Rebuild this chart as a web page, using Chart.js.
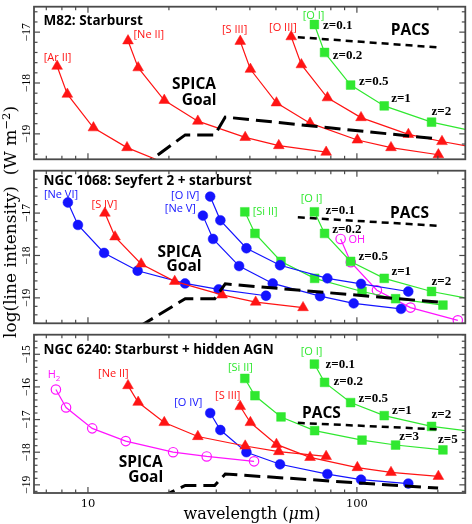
<!DOCTYPE html>
<html><head><meta charset="utf-8">
<script src="https://cdn.jsdelivr.net/npm/chart.js@4.4.0/dist/chart.umd.min.js"></script>
<style>
html,body{margin:0;padding:0;background:#fff;}
#wrap{position:relative;width:472px;height:524px;overflow:hidden;background:#fff;}
canvas{position:absolute;left:0;}
.axt{position:absolute;white-space:nowrap;font-family:"DejaVu Serif";color:#000;}
.axt sup{font-size:0.68em;vertical-align:0.55em;line-height:0;}
</style></head><body>
<div id="wrap">
<canvas id="c1" width="472" height="166" style="top:0px"></canvas>
<canvas id="c2" width="472" height="166" style="top:164px"></canvas>
<canvas id="c3" width="472" height="196" style="top:328px"></canvas>
<div class="axt" id="ytitle" style="left:10px;top:222px;font-size:17px;transform:translate(-50%,-50%) rotate(-90deg);">log(line intensity)&nbsp; (W m<sup>−2</sup>)</div>
<div class="axt" id="xtitle" style="left:252px;top:513px;font-size:16px;transform:translate(-50%,-50%);">wavelength (<i>μ</i>m)</div>
</div>
<script>
// ---------- axis ranges / ticks ----------
const X_MIN = 6.3, X_MAX = 253;
const X_MAJOR = [10, 100];
const X_MINOR = [7, 8, 9, 20, 30, 40, 50, 60, 70, 80, 90, 200];
const X_TICK_LABELS = ['10', '100'];
const Y_RANGE_1 = [-19.5, -16.5];
const Y_RANGE_2 = [-19.6, -16.0];
const Y_RANGE_3 = [-19.25, -14.4];
const Y_MAJOR_1 = [-17, -18, -19];
const Y_MAJOR_2 = [-17, -18, -19];
const Y_MAJOR_3 = [-15, -16, -17, -18, -19];

// ---------- observed wavelengths (µm) at z = 0.1, 0.2, 0.5, 1, 2, 3, 5 ----------
const AR2_WL = [7.68, 8.38, 10.48, 13.97, 20.96];
const NE2_WL = [14.09, 15.37, 19.22, 25.62, 38.43, 51.24, 76.86];
const S3_WL  = [36.83, 40.18, 50.22, 66.96, 100.4, 133.9, 200.9];
const O3_WL  = [56.99, 62.17, 77.72, 103.6, 155.4, 207.2, 310.9];
const O1_WL  = [69.50, 75.82, 94.77, 126.4, 189.5, 252.7];
const NE6_WL = [8.42, 9.18, 11.48, 15.30, 22.96, 30.61, 45.91];
const S4_WL  = [11.56, 12.61, 15.77, 21.02, 31.53, 42.04, 63.06];
const O4_WL  = [28.48, 31.07, 38.84, 51.78, 77.67, 103.6, 155.3];
const NE5_WL = [26.75, 29.18, 36.48, 48.64, 72.96, 97.28, 145.9];
const SI2_WL = [38.30, 41.78, 52.23, 69.64, 104.5, 139.3, 208.9];
const OH_WL  = [87.0, 94.9, 118.7, 158.2, 237.3];
const H2_WL  = [7.60, 8.29, 10.37, 13.82, 20.73, 27.64, 41.46];

// ---------- log(line intensity) values ----------
// Panel 1: M82
const M82_AR2 = [-17.67, -18.22, -18.88, -19.27, -19.65];
const M82_NE2 = [-17.17, -17.70, -18.34, -18.75, -19.07, -19.23, -19.36];
const M82_S3  = [-17.18, -17.73, -18.39, -18.79, -19.12, -19.27, -19.41];
const M82_O3  = [-17.09, -17.64, -18.29, -18.68, -19.01, -19.15, -19.32];
const M82_O1  = [-16.85, -17.40, -18.04, -18.45, -18.77, -18.91];
// Panel 2: NGC 1068
const N1068_NE6 = [-16.75, -17.28, -17.94, -18.36, -18.66, -18.80, -18.95];
const N1068_S4  = [-17.00, -17.56, -18.20, -18.61, -18.93, -19.10, -19.23];
const N1068_O4  = [-16.61, -17.17, -17.83, -18.23, -18.54, -18.67, -18.85];
const N1068_NE5 = [-17.06, -17.61, -18.25, -18.66, -18.96, -19.13, -19.26];
const N1068_SI2 = [-16.97, -17.48, -18.14, -18.54, -18.85, -19.02, -19.17];
const N1068_O1  = [-16.97, -17.48, -18.14, -18.54, -18.85, -19.00];
const N1068_OH  = [-17.61, -18.16, -18.82, -19.23, -19.53];
// Panel 3: NGC 6240
const N6240_H2  = [-16.08, -16.63, -17.27, -17.66, -18.00, -18.13, -18.28];
const N6240_NE2 = [-15.96, -16.47, -17.09, -17.52, -17.81, -17.98, -18.13];
const N6240_S3  = [-16.60, -17.09, -17.76, -18.16, -18.47, -18.62, -18.74];
const N6240_O4  = [-16.80, -17.32, -18.00, -18.37, -18.67, -18.84, -18.96];
const N6240_SI2 = [-15.74, -16.27, -16.92, -17.34, -17.63, -17.78, -17.93];
const N6240_O1  = [-15.30, -15.86, -16.48, -16.88, -17.21, -17.34];

// ---------- sensitivity curves ----------
const PACS_WL = [60.3, 200.4];
const PACS_LIM = [-17.10, -17.30];
const SPICA_WL = [15.5, 23.0, 29.6, 32.4, 200.4];
const SPICA_LIM = [-19.68, -19.02, -19.02, -18.67, -19.10];

const RED = '#ff1414', BLUE = '#1414ff', GREEN = '#30e830', MAG = '#ff14ff';

function pts(wl, v) { return wl.map((x, i) => ({x: x, y: v[i]})); }
function series(wl, v, color, kind, hideLast) {
  const n = wl.length;
  let r = kind === 'tri' ? 6.2 : kind === 'sq' ? 6.2 : kind === 'open' ? 4.7 : 4.9;
  const radii = wl.map((_, i) => (hideLast && i === n - 1) ? 0 : r);
  return {
    data: pts(wl, v), showLine: true, borderColor: color, borderWidth: 1.2,
    tension: 0, pointRadius: radii, pointHoverRadius: radii,
    pointStyle: kind === 'tri' ? 'triangle' : kind === 'sq' ? 'rect' : 'circle',
    pointBackgroundColor: kind === 'open' ? 'rgba(255,255,255,0)' : color,
    pointBorderColor: color, pointBorderWidth: kind === 'open' ? 1.2 : 0.5
  };
}
function dashed(wl, v, w, dash) {
  return {data: pts(wl, v), showLine: true, borderColor: '#000', borderWidth: w,
    borderDash: dash, pointRadius: 0, tension: 0};
}

const TITLE_FONT = '700 13.5px "Open Sans"';
const LINE_FONT = '11px "Open Sans"';
const Z_FONT = 'bold 13px "Liberation Serif"';
const BIG_FONT = 'bold 15.5px "Open Sans"';

const LABELS_1 = [
  {t: 'M82: Starburst', x: 6.84, y: -16.775, f: TITLE_FONT, a: 'left'},
  {t: '[Ar II]', x: 7.71, y: -17.50, c: RED},
  {t: '[Ne II]', x: 16.84, y: -17.05, c: RED},
  {t: '[S III]', x: 35.1, y: -16.96, c: RED},
  {t: '[O III]', x: 53.1, y: -16.91, c: RED},
  {t: '[O I]', x: 69.0, y: -16.68, c: GREEN},
  {t: 'SPICA', x: 24.8, y: -18.04, f: BIG_FONT},
  {t: 'Goal', x: 25.9, y: -18.34, f: BIG_FONT},
  {t: 'PACS', x: 157.9, y: -16.97, f: BIG_FONT},
  {t: 'z=0.1', x: 74.8, y: -16.88, f: Z_FONT, a: 'left'},
  {t: 'z=0.2', x: 81.4, y: -17.46, f: Z_FONT, a: 'left'},
  {t: 'z=0.5', x: 101.9, y: -17.98, f: Z_FONT, a: 'left'},
  {t: 'z=1', x: 134.1, y: -18.31, f: Z_FONT, a: 'left'},
  {t: 'z=2', x: 189.5, y: -18.57, f: Z_FONT, a: 'left'}
];
const LABELS_2 = [
  {t: 'NGC 1068: Seyfert 2 + starburst', x: 6.84, y: -16.257, f: TITLE_FONT, a: 'left'},
  {t: '[Ne VI]', x: 7.94, y: -16.57, c: BLUE},
  {t: '[S IV]', x: 11.51, y: -16.80, c: RED},
  {t: '[O IV]', x: 23.0, y: -16.60, c: BLUE},
  {t: '[Ne V]', x: 22.06, y: -16.89, c: BLUE},
  {t: '[Si II]', x: 45.6, y: -16.97, c: GREEN},
  {t: '[O I]', x: 67.8, y: -16.66, c: GREEN},
  {t: 'OH', x: 100.0, y: -17.63, c: MAG},
  {t: 'SPICA', x: 21.9, y: -17.92, f: BIG_FONT},
  {t: 'Goal', x: 22.76, y: -18.27, f: BIG_FONT},
  {t: 'PACS', x: 156.9, y: -17.00, f: BIG_FONT},
  {t: 'z=0.1', x: 76.5, y: -16.94, f: Z_FONT, a: 'left'},
  {t: 'z=0.2', x: 80.9, y: -17.39, f: Z_FONT, a: 'left'},
  {t: 'z=0.5', x: 101.4, y: -18.03, f: Z_FONT, a: 'left'},
  {t: 'z=1', x: 134.4, y: -18.37, f: Z_FONT, a: 'left'},
  {t: 'z=2', x: 189.5, y: -18.62, f: Z_FONT, a: 'left'}
];
const LABELS_3 = [
  {t: 'NGC 6240: Starburst + hidden AGN', x: 6.84, y: -14.87, f: TITLE_FONT, a: 'left'},
  {t: 'H', sub: '2', x: 7.48, y: -15.63, c: MAG},
  {t: '[Ne II]', x: 12.43, y: -15.59, c: RED},
  {t: '[O IV]', x: 23.6, y: -16.50, c: BLUE},
  {t: '[S III]', x: 33.1, y: -16.28, c: RED},
  {t: '[Si II]', x: 36.9, y: -15.41, c: GREEN},
  {t: '[O I]', x: 67.8, y: -14.92, c: GREEN},
  {t: 'SPICA', x: 15.7, y: -18.33, f: BIG_FONT},
  {t: 'Goal', x: 16.4, y: -18.79, f: BIG_FONT},
  {t: 'PACS', x: 73.8, y: -16.82, f: BIG_FONT},
  {t: 'z=0.1', x: 76.5, y: -15.32, f: Z_FONT, a: 'left'},
  {t: 'z=0.2', x: 81.9, y: -15.84, f: Z_FONT, a: 'left'},
  {t: 'z=0.5', x: 101.4, y: -16.35, f: Z_FONT, a: 'left'},
  {t: 'z=1', x: 135.2, y: -16.72, f: Z_FONT, a: 'left'},
  {t: 'z=2', x: 189.5, y: -16.85, f: Z_FONT, a: 'left'},
  {t: 'z=3', x: 143.8, y: -17.51, f: Z_FONT, a: 'left'},
  {t: 'z=5', x: 200.4, y: -17.63, f: Z_FONT, a: 'left'}
];

const AXIS_COLOR = '#4a4a4a';
const framePlugin = {
  id: 'frame',
  afterDatasetsDraw(chart) {
    const cfg = chart.config.options.frame;
    const ctx = chart.ctx, a = chart.chartArea, xs = chart.scales.x, ys = chart.scales.y;
    ctx.save();
    ctx.strokeStyle = AXIS_COLOR; ctx.lineWidth = 1.2;
    const seg = (x1, y1, x2, y2) => { ctx.beginPath(); ctx.moveTo(x1, y1); ctx.lineTo(x2, y2); ctx.stroke(); };
    X_MAJOR.forEach(v => { const p = xs.getPixelForValue(v); seg(p, a.bottom, p, a.bottom - 6); seg(p, a.top, p, a.top + 6); });
    X_MINOR.forEach(v => { const p = xs.getPixelForValue(v); seg(p, a.bottom, p, a.bottom - 3.5); seg(p, a.top, p, a.top + 3.5); });
    cfg.yMajor.forEach(v => { const p = ys.getPixelForValue(v); seg(a.left, p, a.left + 6, p); seg(a.right, p, a.right - 6, p); });
    for (let k = Math.ceil(ys.min * 5); k <= Math.floor(ys.max * 5); k++) {
      if (k % 5 === 0) continue;
      const p = ys.getPixelForValue(k / 5);
      seg(a.left, p, a.left + 3.5, p); seg(a.right, p, a.right - 3.5, p);
    }
    ctx.lineWidth = 1.8;
    ctx.strokeRect(a.left, a.top, a.right - a.left, a.bottom - a.top);
    // y tick labels (rotated)
    ctx.fillStyle = '#000';
    ctx.font = '11.5px "Liberation Serif"';
    ctx.textAlign = 'center'; ctx.textBaseline = 'middle';
    cfg.yMajor.forEach(v => {
      const p = ys.getPixelForValue(v);
      ctx.save(); ctx.translate(a.left - 7, p); ctx.rotate(-Math.PI / 2);
      ctx.fillText('\u2212' + Math.abs(v), 0, 0); ctx.restore();
    });
    if (cfg.xLabels) {
      ctx.font = '11.5px "DejaVu Serif"';
      X_MAJOR.forEach((v, i) => ctx.fillText(X_TICK_LABELS[i], xs.getPixelForValue(v), a.bottom + 11));
    }
    // annotations
    cfg.labels.forEach(L => {
      ctx.font = L.f || LINE_FONT;
      ctx.fillStyle = L.c || '#000';
      ctx.textAlign = L.a || 'center';
      ctx.textBaseline = 'middle';
      const px = xs.getPixelForValue(L.x), py = ys.getPixelForValue(L.y);
      if (L.sub) {
        const w1 = ctx.measureText(L.t).width;
        ctx.font = '8px "Open Sans"';
        const w2 = ctx.measureText(L.sub).width;
        ctx.textAlign = 'left';
        ctx.fillText(L.sub, px - (w1 + w2) / 2 + w1, py + 4);
        ctx.font = L.f || LINE_FONT;
        ctx.fillText(L.t, px - (w1 + w2) / 2, py);
      } else {
        ctx.fillText(L.t, px, py);
      }
    });
    ctx.restore();
  }
};

function makeChart(id, datasets, yr, yMajor, labels, padBottom, xLabels) {
  return new Chart(document.getElementById(id), {
    type: 'scatter',
    data: {datasets: datasets},
    options: {
      responsive: false, animation: false, devicePixelRatio: 1,
      layout: {padding: {left: 34, right: 1, top: 1, bottom: padBottom}},
      plugins: {legend: {display: false}, tooltip: {enabled: false}},
      events: [],
      scales: {
        x: {type: 'logarithmic', min: X_MIN, max: X_MAX, display: false},
        y: {type: 'linear', min: yr[0], max: yr[1], display: false}
      },
      frame: {yMajor: yMajor, labels: labels, xLabels: xLabels}
    },
    plugins: [framePlugin]
  });
}

makeChart('c1', [
  dashed(SPICA_WL, SPICA_LIM, 3, [16, 7]),
  dashed(PACS_WL, PACS_LIM, 2.5, [7, 5]),
  series(AR2_WL, M82_AR2, RED, 'tri'),
  series(NE2_WL, M82_NE2, RED, 'tri'),
  series(S3_WL, M82_S3, RED, 'tri'),
  series(O3_WL, M82_O3, RED, 'tri'),
  series(O1_WL, M82_O1, GREEN, 'sq', true)
], Y_RANGE_1, Y_MAJOR_1, LABELS_1, 1, false);

makeChart('c2', [
  dashed(SPICA_WL, SPICA_LIM, 3, [16, 7]),
  dashed(PACS_WL, PACS_LIM, 2.5, [7, 5]),
  series(S4_WL, N1068_S4, RED, 'tri'),
  series(NE6_WL, N1068_NE6, BLUE, 'dot'),
  series(O4_WL, N1068_O4, BLUE, 'dot'),
  series(NE5_WL, N1068_NE5, BLUE, 'dot'),
  series(SI2_WL, N1068_SI2, GREEN, 'sq'),
  series(O1_WL, N1068_O1, GREEN, 'sq', true),
  series(OH_WL, N1068_OH, MAG, 'open')
], Y_RANGE_2, Y_MAJOR_2, LABELS_2, 1, false);

makeChart('c3', [
  dashed(SPICA_WL, SPICA_LIM, 3, [16, 7]),
  dashed(PACS_WL, PACS_LIM, 2.5, [7, 5]),
  series(H2_WL, N6240_H2, MAG, 'open'),
  series(NE2_WL, N6240_NE2, RED, 'tri'),
  series(S3_WL, N6240_S3, RED, 'tri'),
  series(O4_WL, N6240_O4, BLUE, 'dot'),
  series(SI2_WL, N6240_SI2, GREEN, 'sq'),
  series(O1_WL, N6240_O1, GREEN, 'sq', true)
], Y_RANGE_3, Y_MAJOR_3, LABELS_3, 31, true);
</script>
</body></html>
